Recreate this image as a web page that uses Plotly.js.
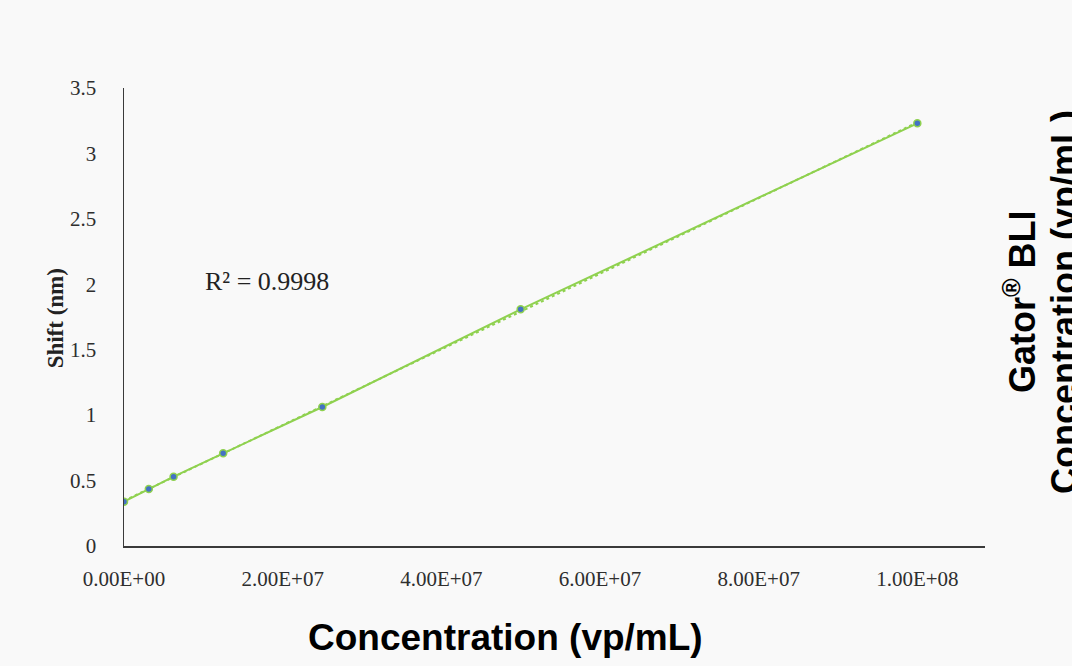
<!DOCTYPE html>
<html>
<head>
<meta charset="utf-8">
<script src="https://cdn.plot.ly/plotly-3.0.1.min.js"></script>
<style>
  html, body { margin: 0; padding: 0; background: #f9f9f9; }
  #chart { width: 1072px; height: 666px; }
</style>
</head>
<body>
<div id="chart"></div>
<script>
// Data
const concentration = [0, 3.125e6, 6.25e6, 1.25e7, 2.5e7, 5e7, 1e8];
const shiftNm = [0.339, 0.436, 0.530, 0.708, 1.062, 1.809, 3.230];
const xTickVals = [0, 2e7, 4e7, 6e7, 8e7, 1e8];
const xTickText = ["0.00E+00", "2.00E+07", "4.00E+07", "6.00E+07", "8.00E+07", "1.00E+08"];
const yTickVals = [0, 0.5, 1, 1.5, 2, 2.5, 3, 3.5];
const yTickText = ["0", "0.5", "1", "1.5", "2", "2.5", "3", "3.5"];
const rSquaredLabel = "R² = 0.9998";

// Linear least-squares trendline from the data
const n = concentration.length;
const mx = concentration.reduce((a, b) => a + b, 0) / n;
const my = shiftNm.reduce((a, b) => a + b, 0) / n;
let sxy = 0, sxx = 0;
for (let i = 0; i < n; i++) {
  sxy += (concentration[i] - mx) * (shiftNm[i] - my);
  sxx += (concentration[i] - mx) ** 2;
}
const slope = sxy / sxx;
const intercept = my - slope * mx;
const trendX = [Math.min(...concentration), Math.max(...concentration)];
const trendY = trendX.map(x => intercept + slope * x);

const green = '#8fd14f';
const serif = '"Liberation Serif", "DejaVu Serif", serif';
const sans = '"Liberation Sans", Arial, sans-serif';

const traces = [
  {
    x: trendX, y: trendY, mode: 'lines', type: 'scatter',
    line: { color: green, width: 2, dash: 'dot' },
    hoverinfo: 'skip', showlegend: false
  },
  {
    x: concentration, y: shiftNm, mode: 'lines+markers', type: 'scatter',
    line: { color: green, width: 2 },
    marker: { color: '#4472c4', size: 7, line: { color: green, width: 1.5 } },
    showlegend: false
  }
];

const layout = {
  width: 1072, height: 666,
  paper_bgcolor: '#f9f9f9', plot_bgcolor: '#f9f9f9',
  margin: { l: 124, r: 87, t: 88, b: 120 },
  showlegend: false,
  xaxis: {
    range: [0, 1.0853e8], showgrid: false, zeroline: false,
    showline: true, linecolor: '#3a3a3a', linewidth: 1.5,
    tickvals: xTickVals, ticktext: xTickText, ticks: '',
    ticklabelstandoff: 13,
    tickfont: { family: serif, size: 21, color: '#2e2e2e' }
  },
  yaxis: {
    range: [0, 3.5], showgrid: false, zeroline: false,
    showline: true, linecolor: '#3a3a3a', linewidth: 1.5,
    tickvals: yTickVals, ticktext: yTickText, ticks: '',
    ticklabelstandoff: 22,
    tickfont: { family: serif, size: 21, color: '#2e2e2e' }
  },
  annotations: [
    {
      text: rSquaredLabel, xref: 'paper', yref: 'paper',
      x: (203 - 124) / 861, y: (546 - 281) / 458, xanchor: 'left', yanchor: 'middle',
      showarrow: false, font: { family: serif, size: 26, color: '#222222' }
    },
    {
      text: '<b>Shift (nm)</b>', xref: 'paper', yref: 'paper',
      x: (55 - 124) / 861, y: 0.497, xanchor: 'center', yanchor: 'middle',
      textangle: -90, showarrow: false,
      font: { family: serif, size: 23, color: '#222222' }
    },
    {
      text: '<b>Concentration (vp/mL)</b>', xref: 'paper', yref: 'paper',
      x: (505 - 124) / 861, y: (546 - 637) / 458, xanchor: 'center', yanchor: 'middle',
      showarrow: false, font: { family: sans, size: 37, color: '#000000' }
    },
    {
      text: '<b>Gator<sup>®</sup> BLI</b>', xref: 'paper', yref: 'paper',
      x: (1020 - 124) / 861, y: (546 - 302) / 458, xanchor: 'center', yanchor: 'middle',
      textangle: -90, showarrow: false, font: { family: sans, size: 36, color: '#000000' }
    },
    {
      text: '<b>Concentration (vp/mL)</b>', xref: 'paper', yref: 'paper',
      x: (1064 - 124) / 861, y: (546 - 302) / 458, xanchor: 'center', yanchor: 'middle',
      textangle: -90, showarrow: false, font: { family: sans, size: 36, color: '#000000' }
    }
  ]
};

Plotly.newPlot('chart', traces, layout, { displayModeBar: false, staticPlot: true });
</script>
</body>
</html>
